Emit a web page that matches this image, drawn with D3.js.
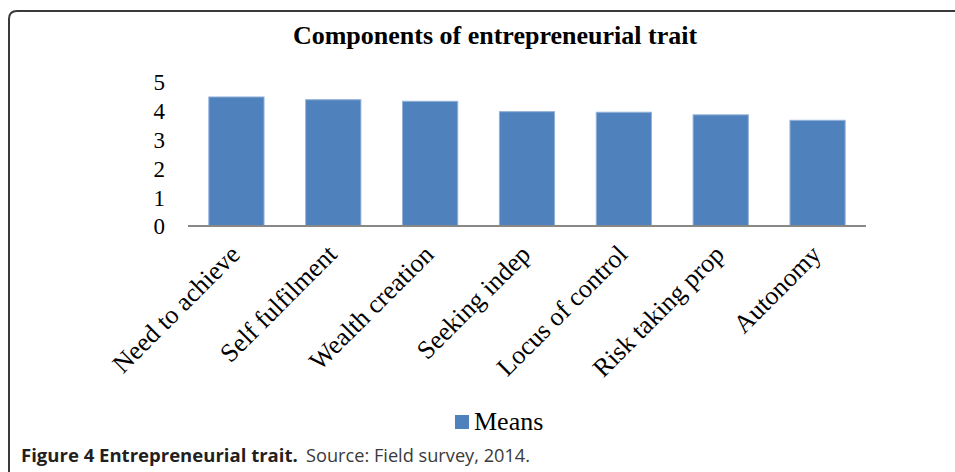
<!DOCTYPE html>
<html>
<head>
<meta charset="utf-8">
<script src="https://cdn.jsdelivr.net/npm/d3@7"></script>
<style>
  html, body { margin: 0; padding: 0; background: #fff; }
  svg { display: block; }
</style>
</head>
<body>
<script>
const categories = ["Need to achieve", "Self fulfilment", "Wealth creation", "Seeking indep", "Locus of control", "Risk taking prop", "Autonomy"];
const means = [4.48, 4.385, 4.33, 3.97, 3.95, 3.86, 3.67];
const yTicks = [0, 1, 2, 3, 4, 5];
const seriesName = "Means";
const chartTitle = "Components of entrepreneurial trait";
const captionBold = "Figure 4 Entrepreneurial trait.";
const captionRest = "Source: Field survey, 2014.";

const W = 955, H = 472;
const svg = d3.select("body").append("svg").attr("width", W).attr("height", H);
svg.append("rect").attr("width", W).attr("height", H).attr("fill", "#fff");

// frame
svg.append("path")
  .attr("d", "M9,472 L9,19 Q9,11 17,11 L955,11")
  .attr("fill", "none").attr("stroke", "#3a3a3a").attr("stroke-width", 2);

const serif = "'Liberation Serif', 'Times New Roman', serif";

const x = d3.scaleBand().domain(categories).range([188, 866]).paddingInner(0.43).paddingOuter(0.215);
const y = d3.scaleLinear().domain([0, 5]).range([226, 82]);

// title
svg.append("text").attr("x", 495).attr("y", 44).attr("text-anchor", "middle")
  .attr("font-family", serif).attr("font-weight", "bold").attr("font-size", 26)
  .attr("fill", "#000").text(chartTitle);

// y axis
const yAxis = svg.append("g").attr("transform", "translate(188,0)")
  .call(d3.axisLeft(y).tickValues(yTicks).tickSize(0).tickPadding(23).tickFormat(d3.format("d")));
yAxis.select(".domain").remove();
yAxis.selectAll("text").attr("font-family", serif).attr("font-size", 23).attr("fill", "#000").attr("dy", "0.34em");

// bars
svg.append("g").selectAll("rect").data(means).join("rect")
  .attr("x", (d, i) => x(categories[i]))
  .attr("y", d => y(d))
  .attr("width", x.bandwidth())
  .attr("height", d => y(0) - y(d))
  .attr("fill", "#4F81BD")
  .attr("stroke", "#93B1D9").attr("stroke-width", 1);

// x axis
const xAxis = svg.append("g").attr("transform", "translate(0,226)")
  .call(d3.axisBottom(x).tickSize(0).tickFormat(""));
xAxis.select(".domain").attr("stroke", "#888").attr("stroke-width", 2).attr("d", "M188,0H866");

// category labels
svg.append("g").selectAll("text").data(categories).join("text")
  .attr("transform", d => `translate(${x(d) + x.bandwidth() / 2 + 5},256) rotate(-45)`)
  .attr("text-anchor", "end")
  .attr("font-family", serif).attr("font-size", 26).attr("fill", "#000")
  .text(d => d);

// legend
svg.append("rect").attr("x", 455).attr("y", 415).attr("width", 14).attr("height", 14).attr("fill", "#4F81BD");
svg.append("text").attr("x", 474).attr("y", 430).attr("font-family", serif).attr("font-size", 26).attr("fill", "#000").text(seriesName);

// caption
const sans = "'Open Sans', 'Noto Sans', sans-serif";
const capB = svg.append("text").attr("x", 21).attr("y", 462)
  .attr("font-family", sans).attr("font-weight", "bold").attr("font-size", 16).attr("fill", "#231f20")
  .text(captionBold);
const wb = capB.node().getComputedTextLength();
const fs = 16 * 277 / wb;
capB.attr("font-size", fs);
svg.append("text").attr("x", 306).attr("y", 462)
  .attr("font-family", sans).attr("font-size", fs).attr("fill", "#3a3a3a")
  .attr("textLength", 224).attr("lengthAdjust", "spacingAndGlyphs")
  .text(captionRest);
</script>
</body>
</html>
